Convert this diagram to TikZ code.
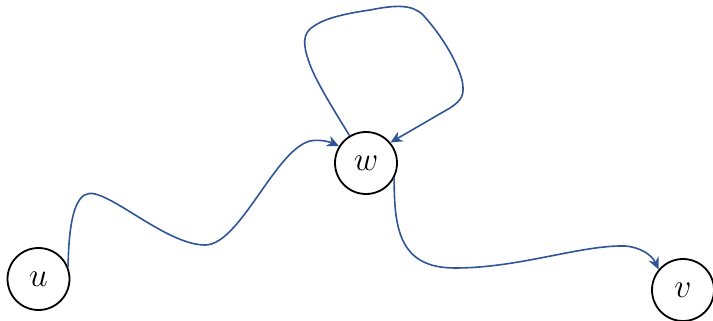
\documentclass[tikz,border=0pt]{standalone}
\usepackage{graphicx}
\usetikzlibrary{arrows.meta}
\definecolor{edgeblue}{HTML}{2F5597}
\begin{document}
\begin{tikzpicture}[x=1pt,y=-1pt,
  vert/.style={circle,draw=black,line width=1.8pt,minimum size=62pt,inner sep=0pt,font=\fontsize{24}{28}\selectfont},
  conn/.style={draw=edgeblue,line width=1.6pt},
  arr/.style={-{Stealth[length=12pt,width=11pt]}}]
\useasboundingbox (0,0) rectangle (713,321);
\node[vert] (u) at (38.5,279) {\scalebox{1.35}{$u$}};
\node[vert] (w) at (366,163) {\scalebox{1.35}{$w$}};
\node[vert] (v) at (683,290) {\scalebox{1.35}{$v$}};
% u -> w
\draw[conn,arr] (u.22) .. controls (69,205) and (80,190) .. (95,194)
  .. controls (120,200) and (170,245) .. (205,245)
  .. controls (240,245) and (275,150) .. (310,141)
  .. controls (320,139) and (330,142) .. (w.148);
% self loop on w
\draw[conn,arr] (w.121) .. controls (335,112) and (315,80) .. (309,62)
  .. controls (303,45) and (302,33) .. (314,26)
  .. controls (324,19) and (342,14) .. (370,10)
  .. controls (395,5) and (412,4) .. (423,15)
  .. controls (436,29) and (455,55) .. (462,80)
  .. controls (465,95) and (462,100) .. (450,108)
  -- (w.40);
% w -> v
\draw[conn,arr] (w.-28) .. controls (394,230) and (400,268) .. (455,268)
  .. controls (520,268) and (580,245) .. (625,246)
  .. controls (640,247) and (652,255) .. (v.140);
\end{tikzpicture}
\end{document}
